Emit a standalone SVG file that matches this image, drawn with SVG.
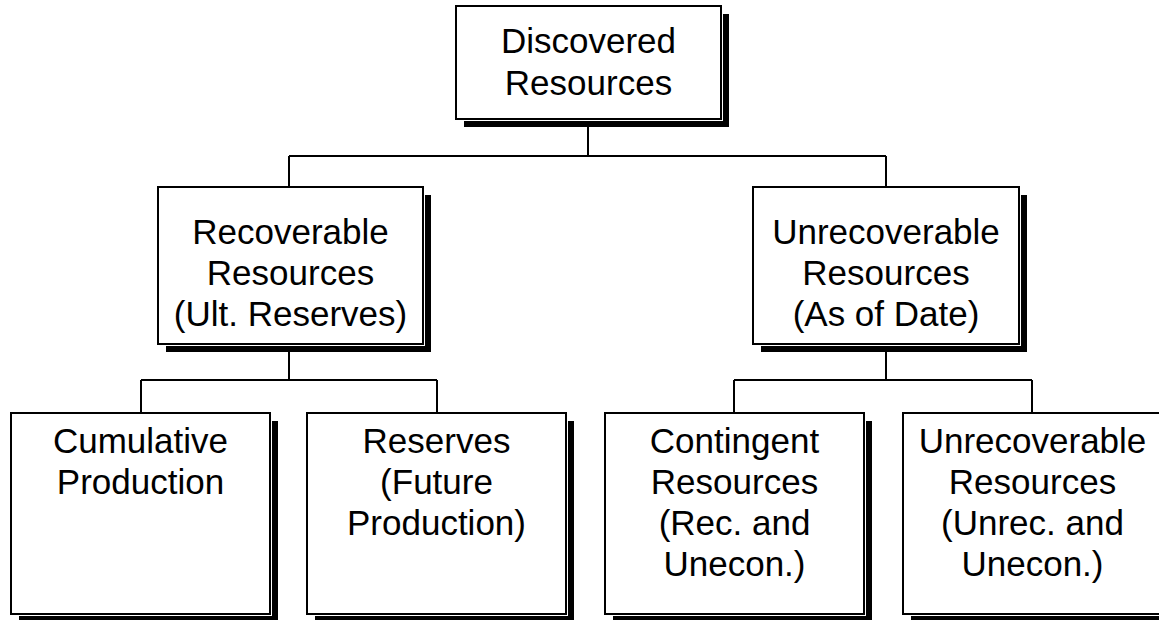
<svg xmlns="http://www.w3.org/2000/svg" width="1159" height="620" viewBox="0 0 1159 620">
<style>
.bg{fill:#fff}
.sh{fill:#000}
.gap{fill:#fff}
.box{fill:#fff;stroke:#000;stroke-width:2}
.t{font-family:"Liberation Sans",Arial,sans-serif;font-size:35px;fill:#000;text-anchor:middle}
.c{fill:none;stroke:#000;stroke-width:2}
</style>
<rect class="bg" x="0" y="0" width="1159" height="620"/>
<g id="connectors">
<path class="c" d="M588,120V156M289,156H886M289,156V186M886,156V186"/>
<path class="c" d="M289,345V380M141,380H437M141,380V412M437,380V412"/>
<path class="c" d="M886,345V380M734,380H1032M734,380V412M1032,380V412"/>
</g>
<g id="discovered">
<rect class="sh" x="464" y="14" width="265" height="113"/>
<rect class="gap" x="455" y="5" width="268" height="116"/>
<rect class="box" x="456" y="6" width="265" height="113"/>
<text class="t" x="588.5" y="53">Discovered</text>
<text class="t" x="588.5" y="95">Resources</text>
</g>
<g id="recoverable">
<rect class="sh" x="166" y="195" width="265" height="157"/>
<rect class="gap" x="157" y="186" width="268" height="160"/>
<rect class="box" x="158" y="187" width="265" height="157"/>
<text class="t" x="290.5" y="244">Recoverable</text>
<text class="t" x="290.5" y="285">Resources</text>
<text class="t" x="290.5" y="326">(Ult. Reserves)</text>
</g>
<g id="unrecoverable">
<rect class="sh" x="761" y="195" width="266" height="157"/>
<rect class="gap" x="752" y="186" width="269" height="160"/>
<rect class="box" x="753" y="187" width="266" height="157"/>
<text class="t" x="886" y="244">Unrecoverable</text>
<text class="t" x="886" y="285">Resources</text>
<text class="t" x="886" y="326">(As of Date)</text>
</g>
<g id="cumulative">
<rect class="sh" x="19" y="421" width="259" height="201"/>
<rect class="gap" x="10" y="412" width="262" height="204"/>
<rect class="box" x="11" y="413" width="259" height="201"/>
<text class="t" x="140.5" y="453">Cumulative</text>
<text class="t" x="140.5" y="494">Production</text>
</g>
<g id="reserves">
<rect class="sh" x="315" y="421" width="259" height="201"/>
<rect class="gap" x="306" y="412" width="262" height="204"/>
<rect class="box" x="307" y="413" width="259" height="201"/>
<text class="t" x="436.5" y="453">Reserves</text>
<text class="t" x="436.5" y="494">(Future</text>
<text class="t" x="436.5" y="535">Production)</text>
</g>
<g id="contingent">
<rect class="sh" x="613" y="421" width="259" height="201"/>
<rect class="gap" x="604" y="412" width="262" height="204"/>
<rect class="box" x="605" y="413" width="259" height="201"/>
<text class="t" x="734.5" y="453">Contingent</text>
<text class="t" x="734.5" y="494">Resources</text>
<text class="t" x="734.5" y="535">(Rec. and</text>
<text class="t" x="734.5" y="576">Unecon.)</text>
</g>
<g id="unrecoverable2">
<rect class="sh" x="911" y="421" width="259" height="201"/>
<rect class="gap" x="902" y="412" width="262" height="204"/>
<rect class="box" x="903" y="413" width="259" height="201"/>
<text class="t" x="1032.5" y="453">Unrecoverable</text>
<text class="t" x="1032.5" y="494">Resources</text>
<text class="t" x="1032.5" y="535">(Unrec. and</text>
<text class="t" x="1032.5" y="576">Unecon.)</text>
</g>
</svg>
